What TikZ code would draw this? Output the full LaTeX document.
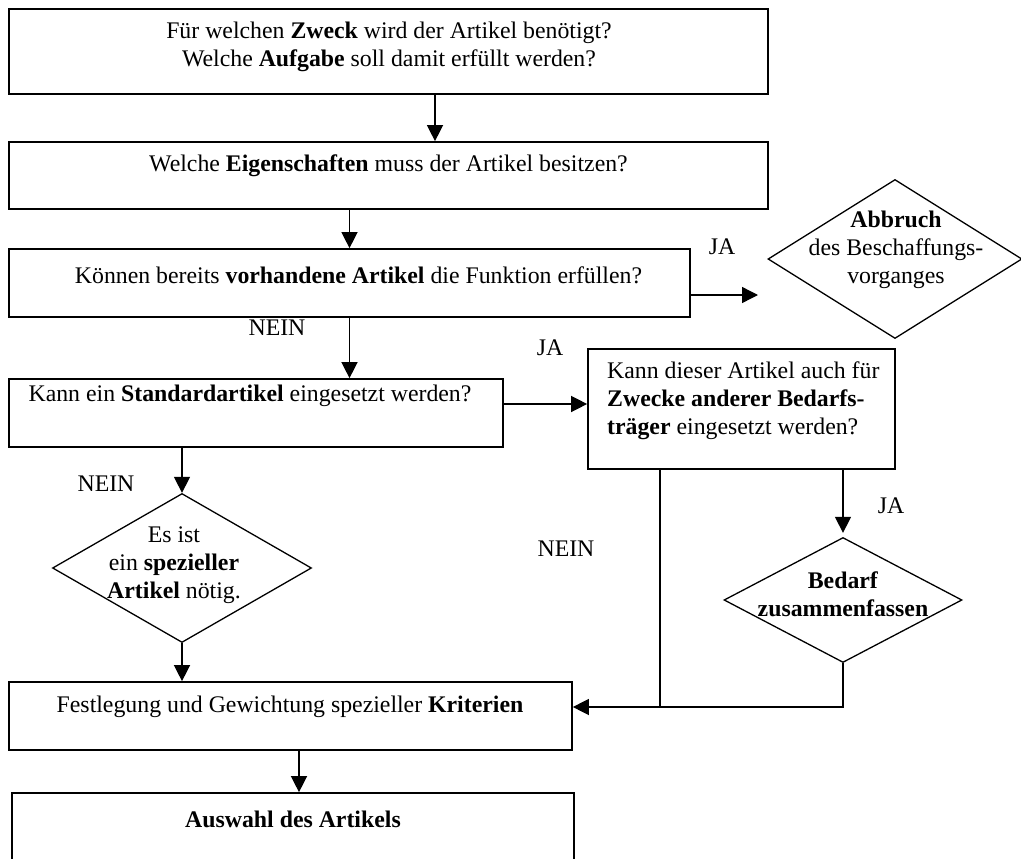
\documentclass[tikz,border=0pt]{standalone}
\usepackage{fontspec}
\setmainfont{Liberation Serif}
\usetikzlibrary{arrows.meta,shapes.geometric,calc,positioning}
\tikzset{
box/.style={draw,rectangle,line width=1.7pt,inner sep=0pt},
raute/.style={draw,diamond,line width=1.3pt,inner sep=0pt},
txt/.style={align=center,inner sep=0pt},
arc/.style={-{Triangle[length=16pt,width=16pt]},line width=1.4pt},
lin/.style={line width=1.4pt}
}

\begin{document}
\begin{tikzpicture}[x=1pt,y=-1pt,every node/.style={font=\fontsize{23.8}{28}\selectfont}]
	\useasboundingbox (0,0) rectangle (1021,859);
	\clip (0,0) rectangle (1021,859);
	% boxes
	\node[box,minimum width=759pt,minimum height=85pt] (zweck) at (388.5,51.5) {};
	\node[box,minimum width=759pt,minimum height=67pt] (eigen) at (388.5,175.5) {};
	\node[box,minimum width=681pt,minimum height=68pt] (vorh) at (349.5,283) {};
	\node[box,minimum width=494pt,minimum height=68pt] (standard) at (256,413) {};
	\node[box,minimum width=307pt,minimum height=120pt] (zwecke) at (741.5,409) {};
	\node[box,minimum width=563pt,minimum height=68pt] (krit) at (290.5,716) {};
	\node[box,minimum width=562pt,minimum height=100pt] (auswahl) at (293,843) {};

	% diamonds
	\node[raute,minimum width=254pt,minimum height=159pt] (abbruch) at (895,259) {};
	\node[raute,minimum width=259pt,minimum height=149pt] (speziell) at (182,568) {};
	\node[raute,minimum width=238pt,minimum height=125pt] (bedarf) at (843,600) {};

	% texts
	\node[txt] (zweck-t) at (389,47) {F\"ur welchen \textbf{Zweck} wird der Artikel ben\"otigt?\\Welche \textbf{Aufgabe} soll damit erf\"ullt werden?};
	\node[txt] (eigen-t) at (388.5,166) {Welche \textbf{Eigenschaften} muss der Artikel besitzen?};
	\node[txt] (vorh-t) at (358.5,275) {K\"onnen bereits \textbf{vorhandene Artikel} die Funktion erf\"ullen?};
	\node[txt] (standard-t) at (250,396) {Kann ein \textbf{Standardartikel} eingesetzt werden?};
	\node[txt,anchor=west,align=left] (zwecke-t) at (607,401) {Kann dieser Artikel auch f\"ur\\\textbf{Zwecke anderer Bedarfs-}\\\textbf{tr\"ager} eingesetzt werden?};
	\node[txt] (krit-t) at (290,707) {Festlegung und Gewichtung spezieller \textbf{Kriterien}};
	\node[txt] (auswahl-t) at (293,819) {\textbf{Auswahl des Artikels}};
	\node[txt] (abbruch-t) at (896,250) {\textbf{Abbruch}\\des Beschaffungs-\\vorganges};
	\node[txt] (speziell-t) at (174,565) {Es ist\\ein \textbf{spezieller}\\\textbf{Artikel} n\"otig.};
	\node[txt] (bedarf-t) at (843,594) {\textbf{Bedarf}\\\textbf{zusammenfassen}};

	% answers
	\node (ja1) at (722,247) {JA};
	\node (nein1) at (277,328) {NEIN};
	\node (ja2) at (550,348) {JA};
	\node (nein2) at (106,484) {NEIN};
	\node (nein3) at (566,549) {NEIN};
	\node (ja3) at (891,506) {JA};

	% arrows
	\coordinate (jaend) at (758,295);
	\coordinate (stdja) at ([yshift=9pt]standard.east);
	\coordinate (wahl) at ([xshift=6pt]auswahl.north);
	\coordinate (kritein) at ([yshift=9pt]krit.east);
	\coordinate (nein) at (660,707);
	\draw[arc] ([xshift=46.5pt]zweck.south) -- ([xshift=46.5pt]eigen.north);
	\draw[arc] (vorh.north |- eigen.south) -- (vorh.north);
	\draw[arc] (vorh.south) -- (vorh.south |- standard.north);
	\draw[arc] (vorh.east |- jaend) -- (jaend);
	\draw[arc] (stdja) -- (stdja -| zwecke.west);
	\draw[arc] (speziell.north |- standard.south) -- (speziell.north);
	\draw[arc] (speziell.south) -- (speziell.south |- krit.north);
	\draw[arc] (wahl |- krit.south) -- (wahl);
	\draw[arc,shorten >=4pt] (bedarf.north |- zwecke.south) -- (bedarf.north);
	\draw[arc] (bedarf.south) |- (kritein);
	\draw[lin] (zwecke.south -| nein) -- (nein);
\end{tikzpicture}
\end{document}
